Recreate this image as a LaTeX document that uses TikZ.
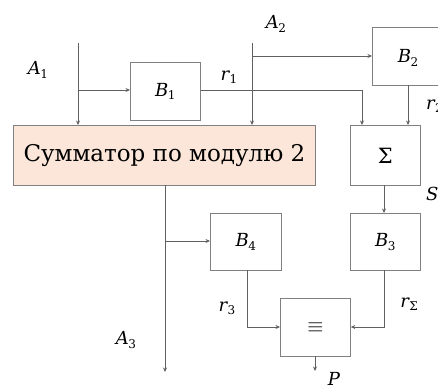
\documentclass[tikz,border=0pt]{standalone}
\usepackage{fontspec}
\newfontfamily\dvs{DejaVu Serif}
\usetikzlibrary{arrows.meta}
\definecolor{wire}{HTML}{606060}
\definecolor{peach}{HTML}{FBE6D9}
\newcommand{\lbl}[2]{\textit{#1}\kern-0.5pt\raisebox{-0.35ex}{\fontsize{12pt}{12pt}\selectfont #2}}
\tikzset{
  blk/.style={draw=wire!80, line width=0.8pt, inner sep=0pt, anchor=north west},
  wireline/.style={draw=wire, line width=0.8pt},
  feed/.style={wireline, -{Stealth[length=4.5pt,width=4pt]}},
  tag/.style={font=\dvs\fontsize{18pt}{18pt}\selectfont, inner sep=0pt},
}
\begin{document}
\begin{tikzpicture}[x=1pt, y=-1pt]
\useasboundingbox[fill=white] (0,0) rectangle (438,390);

% blocks
\node[blk, minimum width=70pt, minimum height=58pt] (b1) at (130,62) {};
\node[tag] at (b1.center) {\lbl{B}{1}};
\node[blk, minimum width=73pt, minimum height=58pt] (b2) at (372,27) {};
\node[tag] at (408,58) {\lbl{B}{2}};
\node[blk, fill=peach, minimum width=302pt, minimum height=60pt] (sum) at (13,125) {};
\node[font=\dvs\fontsize{23pt}{23pt}\selectfont, inner sep=0pt] at (sum.center) {Сумматор по модулю 2};
\node[blk, minimum width=70pt, minimum height=60pt] (sig) at (350,125) {};
\node[font=\dvs\fontsize{21pt}{21pt}\selectfont, inner sep=0pt] at (sig.center) {Σ};
\node[blk, minimum width=71pt, minimum height=57pt] (b4) at (210,213) {};
\node[tag] at (b4.center) {\lbl{B}{4}};
\node[blk, minimum width=70pt, minimum height=57pt] (b3) at (350,213) {};
\node[tag] at (b3.center) {\lbl{B}{3}};
\node[blk, minimum width=70pt, minimum height=58pt] (eq) at (280,298) {};
\node[font=\fontsize{20pt}{20pt}\selectfont, inner sep=0pt] at (eq.center) {$\equiv$};

% free wire ends
\coordinate (a1) at (78,43);
\coordinate (a2) at (252,43);
\coordinate (a3) at (165,372);
\coordinate (p) at (315,371);

% inputs A1, A2
\draw[feed] (a1) -- (a1 |- sum.north);
\draw[feed] (78,90) -- (b1.west |- 0,90);
\draw[feed] (a2) -- (a2 |- sum.north);
\draw[feed] (252,56) -- (b2.west |- 0,56);

% r1 and r2 into the sum block
\draw[feed] (b1.east |- 0,90) -- (362,90) -- (362,125);
\draw[feed] (408,85) -- (408,125);

% sum -> B3 -> comparator
\draw[feed] (384,185) -- (384,213);
\draw[feed] (384,270) -- (384,327) -- (eq.east |- 0,327);

% adder output A3 with branch to B4
\draw[feed] (165,185) -- (a3);
\draw[feed] (165,241) -- (b4.west |- 0,241);
\draw[feed] (247,270) -- (247,327) -- (eq.west |- 0,327);

% comparator output
\draw[feed] (315,356) -- (p);

% labels
\node[tag] at (38,70) {\lbl{A}{1}};
\node[tag] at (276,24) {\lbl{A}{2}};
\node[tag] at (126,340) {\lbl{A}{3}};
\node[tag] at (229,77) {\lbl{r}{1}};
\node[tag, anchor=west] at (426,106) {\lbl{r}{2}};
\node[tag, anchor=west] at (426,194) {\textit{S}};
\node[tag] at (227,308) {\lbl{r}{3}};
\node[tag] at (409,304) {\lbl{r}{Σ}};
\node[tag] at (334,379) {\textit{P}};
\end{tikzpicture}
\end{document}
